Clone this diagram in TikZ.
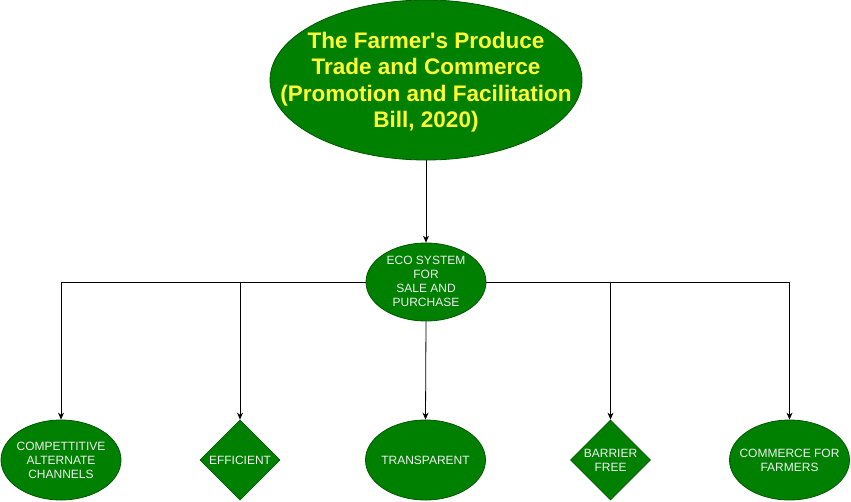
\documentclass[tikz,border=0pt]{standalone}
\usepackage{fontspec}
\setmainfont{Liberation Sans}
\usetikzlibrary{shapes.geometric,arrows.meta}
\definecolor{leaf}{HTML}{008000}
\definecolor{leafline}{HTML}{005700}
\definecolor{titleyellow}{HTML}{FFFF33}
\definecolor{softwhite}{HTML}{F0F0F0}
\tikzset{
  oval/.style={ellipse, draw=leafline, fill=leaf, line width=0.8pt, inner sep=0pt},
  rhomb/.style={diamond, draw=leafline, fill=leaf, line width=0.8pt, inner sep=0pt},
  lbl/.style={text=softwhite, align=center, inner sep=0pt, font=\fontsize{12}{14}\selectfont},
  link/.style={draw=black, line width=0.8pt},
  arrowlink/.style={link, -{Stealth[length=7pt,width=6pt]}},
}
\begin{document}
\begin{tikzpicture}[x=1pt,y=-1pt]
\useasboundingbox (0,0) rectangle (851,501);
\node[oval, minimum width=312pt, minimum height=160pt] (title) at (426,80) {};
\node[lbl, text=titleyellow, font=\bfseries\fontsize{22.5}{26.5}\selectfont] (titletext) at (426,82)
  {The Farmer\textquotesingle s Produce\\Trade and Commerce\\(Promotion and Facilitation\\Bill, 2020)};
\node[oval, minimum width=120pt, minimum height=78pt] (eco) at (426,282) {};
\node[lbl] (ecotext) at (426,281) {ECO SYSTEM\\FOR\\SALE AND\\PURCHASE};
\node[oval, minimum width=120pt, minimum height=80pt] (comp) at (61,460) {};
\node[lbl] (comptext) at (61,460) {COMPETTITIVE\\ALTERNATE\\CHANNELS};
\node[rhomb, minimum width=80pt, minimum height=80pt] (eff) at (240,460) {};
\node[lbl] (efftext) at (240,460) {EFFICIENT};
\node[oval, minimum width=120pt, minimum height=80pt] (trans) at (425.5,460) {};
\node[lbl] (transtext) at (425.5,460) {TRANSPARENT};
\node[rhomb, minimum width=80pt, minimum height=80pt] (barr) at (610.5,460) {};
\node[lbl] (barrtext) at (610.5,460) {BARRIER\\FREE};
\node[oval, minimum width=120pt, minimum height=80pt] (comm) at (789.5,460) {};
\node[lbl] (commtext) at (789.5,460) {COMMERCE FOR\\FARMERS};
\draw[arrowlink] (title.south) -- (eco.north);
\draw[arrowlink] (eco.west) -| (comp.north);
\draw[arrowlink] (eco.west) -| (eff.north);
\draw[arrowlink] (eco.south) -- (trans.north);
\draw[arrowlink] (eco.east) -| (barr.north);
\draw[arrowlink] (eco.east) -| (comm.north);
\end{tikzpicture}
\end{document}
